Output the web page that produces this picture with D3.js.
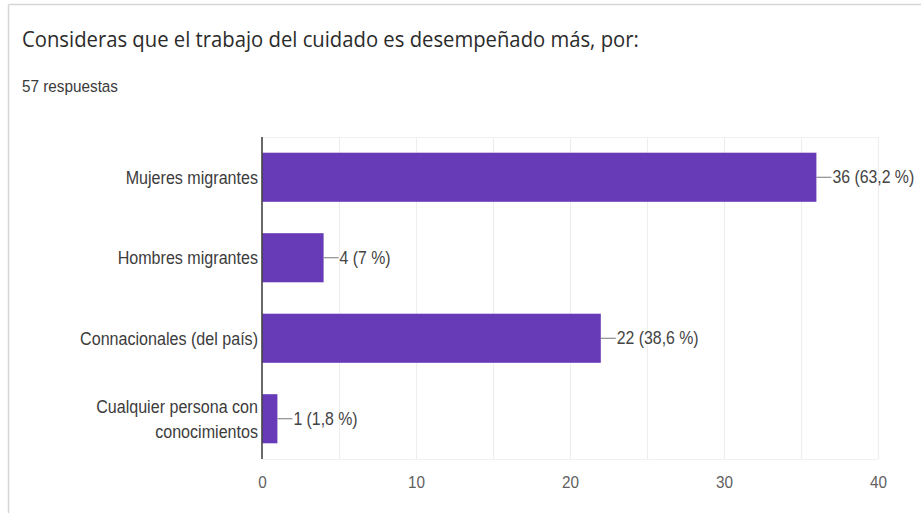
<!DOCTYPE html>
<html>
<head>
<meta charset="utf-8">
<script src="https://cdn.jsdelivr.net/npm/d3@7/dist/d3.min.js"></script>
<style>
  html, body { margin: 0; padding: 0; background: #fff; }
  svg { display: block; }
</style>
</head>
<body>
<svg id="chart" width="921" height="513"></svg>
<script>
// Survey question and responses
const title = "Consideras que el trabajo del cuidado es desempeñado más, por:";
const subtitle = "57 respuestas";
const categories = [
  "Mujeres migrantes",
  "Hombres migrantes",
  "Connacionales (del país)",
  "Cualquier persona con conocimientos"
];
const categoryLines = [
  ["Mujeres migrantes"],
  ["Hombres migrantes"],
  ["Connacionales (del país)"],
  ["Cualquier persona con", "conocimientos"]
];
const counts = [36, 4, 22, 1];
const valueLabels = ["36 (63,2 %)", "4 (7 %)", "22 (38,6 %)", "1 (1,8 %)"];
const xTicks = [0, 10, 20, 30, 40];
const gridTicks = [5, 10, 15, 20, 25, 30, 35, 40];

const svg = d3.select("#chart");
const W = 921, H = 513;
const plot = { left: 262, right: 878, top: 137, bottom: 459 };
const barColor = "#673ab7";

// Card outline (top and left edges)
svg.append("line").attr("x1", 8.5).attr("x2", W).attr("y1", 4.5).attr("y2", 4.5)
  .attr("stroke", "#d6d6d6").attr("stroke-width", 1.5);
svg.append("line").attr("x1", 8.5).attr("x2", 8.5).attr("y1", 4.5).attr("y2", H)
  .attr("stroke", "#d6d6d6").attr("stroke-width", 1.5);

// Text helper: horizontally condensed glyphs
function label(g, x, y, txt, opts) {
  return g.append("text")
    .attr("transform", `translate(${x},${y}) scale(${opts.sx},1)`)
    .attr("font-family", opts.font || "'Liberation Sans', Arial, sans-serif")
    .attr("font-size", opts.size)
    .attr("fill", opts.fill || "#444")
    .attr("text-anchor", opts.anchor || "start")
    .attr("dominant-baseline", opts.baseline || "alphabetic")
    .text(txt);
}

label(svg, 22, 47, title, { font: "'Open Sans', sans-serif", size: 21, sx: 0.965, fill: "#2b2b2b" });
label(svg, 22, 92, subtitle, { size: 17, sx: 0.9, fill: "#3a3a3a" });

const x = d3.scaleLinear().domain([0, 40]).range([plot.left, plot.right]);
const y = d3.scaleBand().domain(categories).range([plot.top, plot.bottom])
  .paddingInner(0.39).paddingOuter(0.195);

// Faint grid and frame
const grid = svg.append("g");
grid.selectAll("line").data(gridTicks).join("line")
  .attr("x1", d => x(d) + 0.5).attr("x2", d => x(d) + 0.5)
  .attr("y1", plot.top).attr("y2", plot.bottom)
  .attr("stroke", "#eeeeee").attr("stroke-width", 1.2);
grid.append("line").attr("x1", plot.left).attr("x2", plot.right)
  .attr("y1", plot.top + 0.5).attr("y2", plot.top + 0.5).attr("stroke", "#f1f1f1");
grid.append("line").attr("x1", plot.left).attr("x2", plot.right)
  .attr("y1", plot.bottom + 0.5).attr("y2", plot.bottom + 0.5).attr("stroke", "#f1f1f1");

// Bars
svg.append("g").selectAll("rect").data(categories).join("rect")
  .attr("x", x(0))
  .attr("y", d => y(d))
  .attr("width", (d, i) => x(counts[i]) - x(0))
  .attr("height", y.bandwidth())
  .attr("fill", barColor);

// Value annotations with leader lines
const ann = svg.append("g");
categories.forEach((c, i) => {
  const cy = y(c) + y.bandwidth() / 2;
  const x0 = x(counts[i]);
  ann.append("line").attr("x1", x0).attr("x2", x0 + 15)
    .attr("y1", cy).attr("y2", cy).attr("stroke", "#777").attr("stroke-width", 1);
  label(ann, x0 + 16, cy, valueLabels[i], { size: 18, sx: 0.88, fill: "#444", baseline: "central" });
});

// Category axis line
svg.append("line").attr("x1", plot.left).attr("x2", plot.left)
  .attr("y1", plot.top).attr("y2", plot.bottom)
  .attr("stroke", "#444").attr("stroke-width", 1.6);

// Category labels
const cat = svg.append("g");
categories.forEach((c, i) => {
  const lines = categoryLines[i];
  const cy = y(c) + y.bandwidth() / 2;
  const lh = 25;
  lines.forEach((ln, k) => {
    const ly = cy + (k - (lines.length - 1) / 2) * lh;
    label(cat, plot.left - 4, ly, ln, { size: 18.5, sx: 0.87, anchor: "end", baseline: "central", fill: "#3c3c3c" });
  });
});

// Value axis ticks
const xAxis = svg.append("g").attr("transform", `translate(0,${plot.bottom})`)
  .call(d3.axisBottom(x).tickValues(xTicks).tickSize(0).tickPadding(0).tickFormat(d3.format("d")));
xAxis.select(".domain").remove();
xAxis.selectAll(".tick text").each(function () {
  const t = d3.select(this);
  t.attr("y", null).attr("dy", null)
    .attr("transform", "translate(0,29) scale(0.9,1)")
    .attr("font-family", "'Liberation Sans', Arial, sans-serif")
    .attr("font-size", 17).attr("fill", "#5f5f5f");
});
</script>
</body>
</html>
